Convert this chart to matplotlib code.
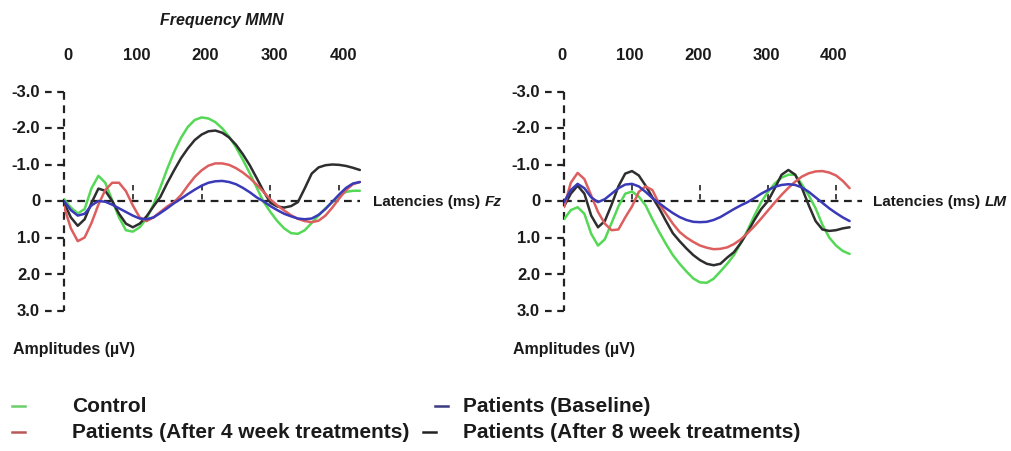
import matplotlib
matplotlib.use('Agg')
import matplotlib.pyplot as plt
from matplotlib import font_manager, transforms
from matplotlib.lines import Line2D

# ---------------- data (amplitudes in µV, negative plotted upward) ----------------
times_fz = list(range(0, 440, 10))   # ms, Fz panel
times_lm = list(range(0, 430, 10))   # ms, LM panel

fz_control = [-0.05, 0.18, 0.34, 0.22, -0.35, -0.69, -0.5, -0.02, 0.45, 0.8,
              0.84, 0.72, 0.48, 0.1, -0.37, -0.88, -1.34, -1.73, -2.03, -2.22,
              -2.29, -2.26, -2.16, -1.99, -1.76, -1.47, -1.13, -0.76, -0.37, 0.02,
              0.3, 0.55, 0.75, 0.88, 0.9, 0.8, 0.6, 0.4, 0.2, 0.03,
              -0.15, -0.25, -0.28, -0.28]
fz_baseline = [0.0, 0.25, 0.4, 0.35, 0.12, 0.0, 0.02, 0.1, 0.2, 0.3,
               0.4, 0.48, 0.5, 0.45, 0.33, 0.2, 0.06, -0.06, -0.19, -0.31,
               -0.42, -0.5, -0.54, -0.55, -0.52, -0.46, -0.36, -0.24, -0.1, 0.01,
               0.14, 0.25, 0.35, 0.42, 0.48, 0.5, 0.48, 0.38, 0.22, 0.02,
               -0.18, -0.36, -0.48, -0.52]
fz_week4 = [0.15, 0.75, 1.1, 1.0, 0.6, 0.1, -0.3, -0.5, -0.5, -0.27,
            0.12, 0.45, 0.55, 0.45, 0.3, 0.15, 0.03, -0.16, -0.42, -0.66,
            -0.84, -0.97, -1.03, -1.03, -0.99, -0.9, -0.78, -0.63, -0.45, -0.25,
            -0.04, 0.12, 0.26, 0.39, 0.49, 0.55, 0.58, 0.54, 0.4, 0.18,
            -0.07, -0.3, -0.46, -0.52]
fz_week8 = [0.05, 0.45, 0.68, 0.5, 0.05, -0.34, -0.28, 0.0, 0.35, 0.62,
            0.72, 0.62, 0.42, 0.15, -0.11, -0.49, -0.84, -1.17, -1.44, -1.67,
            -1.82, -1.91, -1.93, -1.87, -1.74, -1.54, -1.28, -0.98, -0.63, -0.27,
            0.05, 0.15, 0.18, 0.14, 0.03, -0.35, -0.75, -0.92, -0.98, -1.0,
            -0.99, -0.96, -0.91, -0.85]

lm_control = [0.5, 0.25, 0.17, 0.35, 0.9, 1.22, 1.05, 0.6, 0.15, -0.2,
              -0.26, -0.12, 0.12, 0.5, 0.85, 1.18, 1.48, 1.72, 1.93, 2.12,
              2.23, 2.24, 2.13, 1.93, 1.72, 1.48, 1.15, 0.8, 0.4, 0.03,
              -0.25, -0.48, -0.64, -0.72, -0.72, -0.45, -0.15, 0.2, 0.65, 1.0,
              1.22, 1.37, 1.45]
lm_baseline = [0.03, -0.3, -0.47, -0.35, -0.1, 0.03, -0.05, -0.2, -0.35, -0.45,
               -0.47, -0.4, -0.25, -0.08, 0.06, 0.2, 0.33, 0.44, 0.52, 0.57,
               0.58, 0.57, 0.52, 0.44, 0.33, 0.22, 0.12, 0.03, -0.08, -0.2,
               -0.3, -0.39, -0.44, -0.46, -0.44, -0.37, -0.25, -0.1, 0.05, 0.2,
               0.33, 0.45, 0.55]
lm_week4 = [0.17, -0.5, -0.77, -0.6, -0.15, 0.3, 0.62, 0.8, 0.78, 0.45,
            0.15, -0.25, -0.4, -0.3, 0.08, 0.35, 0.62, 0.85, 1.0, 1.12,
            1.22, 1.28, 1.32, 1.31, 1.27, 1.18, 1.05, 0.88, 0.69, 0.48,
            0.26, 0.04, -0.17, -0.36, -0.53, -0.67, -0.76, -0.81, -0.82, -0.78,
            -0.7, -0.55, -0.35]
lm_week8 = [0.15, -0.2, -0.42, -0.2, 0.4, 0.72, 0.55, 0.1, -0.4, -0.75,
            -0.82, -0.7, -0.42, -0.1, 0.2, 0.55, 0.88, 1.1, 1.3, 1.48,
            1.62, 1.72, 1.76, 1.72, 1.55, 1.4, 1.15, 0.85, 0.52, 0.22,
            0.0, -0.35, -0.72, -0.85, -0.72, -0.35, 0.12, 0.55, 0.78, 0.82,
            0.8, 0.75, 0.72]

x_ticks = [0, 100, 200, 300, 400]
y_ticks = [-3.0, -2.0, -1.0, 0.0, 1.0, 2.0, 3.0]
y_tick_labels = ['-3.0', '-2.0', '-1.0', '0', '1.0', '2.0', '3.0']
series_names = ['Control', 'Patients (Baseline)',
                'Patients (After 4 week treatments)', 'Patients (After 8 week treatments)']
colors = ['#55d855', '#3a3ab8', '#dd5e5e', '#2e2e2e']
legend_colors = ['#6ccf6c', '#3a3a80', '#b85858', '#222222']

# ---------------- fonts ----------------
names = {f.name for f in font_manager.fontManager.ttflist}
NARROW = 'Liberation Sans Narrow' if 'Liberation Sans Narrow' in names else 'Liberation Sans'
SANS = 'Liberation Sans'

W, H = 1011, 452
fig = plt.figure(figsize=(W / 100, H / 100), dpi=100)
fig.patch.set_facecolor('white')

def fx(px):
    return px / W

def fy(py):
    return 1 - py / H

Y_TOP, Y_BOT = -3.4, 3.2
ZERO_PX, UNIT_PX = 202.0, 36.5

def make_axes(left_px, xscale):
    top = ZERO_PX + UNIT_PX * Y_TOP
    bot = ZERO_PX + UNIT_PX * Y_BOT
    ax = fig.add_axes([fx(left_px), fy(bot), 440 * xscale / W, (bot - top) / H])
    ax.set_xlim(0, 440)
    ax.set_ylim(Y_BOT, Y_TOP)
    ax.axis('off')
    return ax

panels = [
    (make_axes(64, 0.688), 0.688, times_fz, [fz_control, fz_baseline, fz_week4, fz_week8], 430, 4),
    (make_axes(564, 0.68), 0.68, times_lm, [lm_control, lm_baseline, lm_week4, lm_week8], 438, -2),
]

dash = (0, (3.5, 2.5))
for ax, xs, t, ser, zero_end, lab_off in panels:
    # dashed y axis
    ax.vlines(0, -3.0, 3.0, colors='#222222', linestyles=dash, lw=1.6, clip_on=False)
    ax.hlines(y_ticks, -19 / xs, 0, colors='#222222', linestyles=(0, (3, 2.5)), lw=1.6, clip_on=False)
    for v, lab in zip(y_ticks, y_tick_labels):
        ax.text(-24 / xs, v, lab, ha='right', va='center', fontsize=12,
                family=NARROW, weight='bold', color='#1a1a1a', clip_on=False)
    # dashed zero line and tick marks
    ax.hlines(0, 0, zero_end, colors='#222222', linestyles=dash, lw=1.6, clip_on=False)
    ax.vlines(x_ticks[1:], -0.45, 0, colors='#333333', linestyles=(0, (3, 2)), lw=1.3)
    # top tick labels
    tr = transforms.blended_transform_factory(ax.transData, fig.transFigure)
    for xt in x_ticks:
        ax.text(xt + lab_off / xs, fy(55), str(xt), transform=tr, ha='center', va='center',
                fontsize=12, family=NARROW, weight='bold', color='#1a1a1a')
    # curves
    order = [0, 3, 2, 1]
    for i in order:
        ax.plot(t, ser[i], color=colors[i], lw=1.8, solid_capstyle='round',
                solid_joinstyle='round', zorder=3)

# axis titles
fig.text(fx(222), fy(20), 'Frequency MMN', ha='center', va='center', fontsize=11.5,
         family=NARROW, weight='bold', style='italic', color='#1a1a1a')
for x0, site in [(373, 'Fz'), (873, 'LM')]:
    fig.text(fx(x0), fy(202), 'Latencies (ms)', ha='left', va='center', fontsize=11,
             family=SANS, weight='bold', color='#1a1a1a')
    fig.text(fx(x0 + 112), fy(202), site, ha='left', va='center', fontsize=11,
             family=SANS, weight='bold', style='italic', color='#1a1a1a')
for x0 in [13, 513]:
    fig.text(fx(x0), fy(350), 'Amplitudes (µV)', ha='left', va='center', fontsize=11.5,
             family=NARROW, weight='bold', color='#1a1a1a')

# legend
legend_pos = [((12, 407), (72, 407)), ((435, 407), (463, 407)),
              ((12, 433), (72, 433)), ((423, 433), (463, 433))]
for (mk, tx), name, c in zip(legend_pos, series_names, legend_colors):
    fig.add_artist(Line2D([fx(mk[0]), fx(mk[0] + 13)], [fy(mk[1]), fy(mk[1])],
                          color=c, lw=1.8, transform=fig.transFigure))
    fig.text(fx(tx[0]), fy(tx[1]), name, ha='left', va='center', fontsize=15,
             family=SANS, weight='bold', color='#1a1a1a')

fig.savefig('out.png', dpi=100, facecolor='white')
